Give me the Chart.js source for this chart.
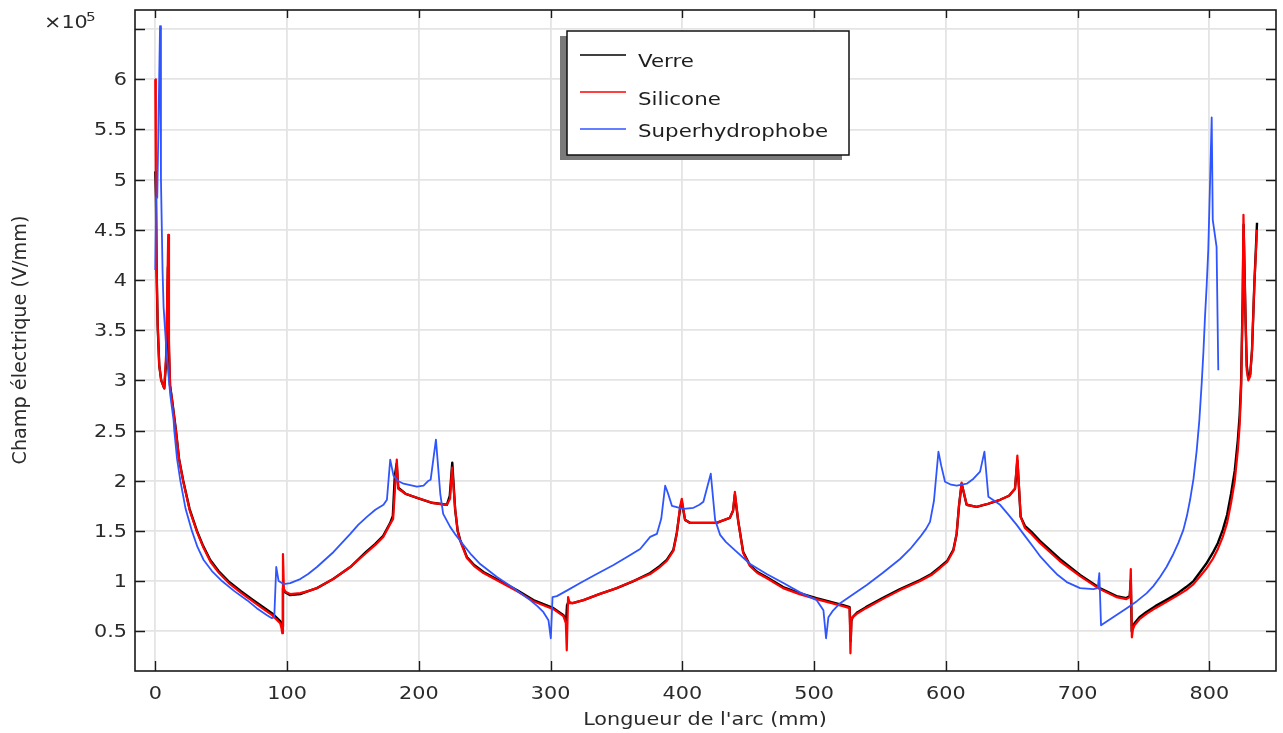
<!DOCTYPE html>
<html>
<head>
<meta charset="utf-8">
<script src="https://cdn.jsdelivr.net/npm/chart.js@4/dist/chart.umd.min.js"></script>
<style>
  body { margin: 0; background: #fff; }
  canvas { display: block; }
</style>
</head>
<body>
<canvas id="chart" width="1283" height="733"></canvas>
<script>
// values, x in mm, y in units of 1e5 V/mm
var verre = [[0,5.08],[0.5,4.83],[1.0,4.1],[1.8,3.55],[3,3.15],[4.5,3.0],[6.8,2.92],[8.3,3.2],[9.6,4.13],[10.3,3.3],[11.2,2.95],[12.7,2.81],[15.7,2.5],[18,2.22],[21.2,2.0],[26,1.72],[31.6,1.5],[36,1.36],[41.7,1.21],[48,1.1],[55.4,1.0],[65,0.9],[74.4,0.81],[82,0.74],[88.5,0.68],[94.8,0.6],[96.3,0.55],[96.9,0.93],[98.5,0.89],[102.4,0.86],[110,0.87],[116,0.9],[122.7,0.93],[135,1.02],[148,1.14],[160,1.29],[167,1.37],[173,1.45],[178.3,1.58],[180.3,1.65],[181.8,2.05],[183.2,2.17],[184.4,1.93],[190,1.87],[198.6,1.83],[210,1.78],[221.3,1.76],[223.5,1.85],[225.4,2.18],[227.6,1.71],[229.5,1.5],[231.4,1.41],[236.5,1.24],[242,1.16],[249.1,1.09],[261.8,1.0],[274.4,0.91],[287,0.81],[302.2,0.73],[309.8,0.66],[311.8,0.6],[312.5,0.76],[313.5,0.79],[316.7,0.78],[325,0.81],[337,0.87],[350.3,0.93],[363,1.0],[375.6,1.08],[383,1.15],[388.2,1.21],[393.2,1.31],[395.8,1.48],[398.3,1.72],[399.6,1.79],[402.1,1.61],[405.9,1.58],[426,1.58],[436.1,1.63],[438.5,1.7],[439.9,1.86],[442.4,1.6],[446.2,1.29],[451.3,1.16],[457,1.09],[463.9,1.04],[476.5,0.94],[489,0.88],[501.8,0.83],[522,0.76],[527,0.74],[527.8,0.4],[528.3,0.6],[529.3,0.64],[533,0.69],[539.4,0.74],[552,0.83],[565.3,0.92],[580.5,1.01],[589,1.07],[595.6,1.14],[601,1.2],[605.7,1.31],[608.2,1.47],[610,1.75],[612,1.97],[615.8,1.76],[623.4,1.74],[632,1.77],[641.2,1.81],[648,1.85],[652.5,1.92],[654.3,2.2],[656.8,1.64],[660,1.55],[665,1.49],[671.4,1.4],[686.5,1.22],[701.9,1.06],[716.8,0.93],[729.5,0.85],[737,0.83],[739.6,0.85],[740.4,1.0],[741.1,0.5],[742,0.55],[743.2,0.58],[747,0.64],[752,0.69],[759,0.75],[767.2,0.81],[775,0.87],[782.4,0.94],[788,1.0],[792.5,1.08],[797.5,1.17],[802.6,1.28],[806.5,1.38],[810.2,1.51],[813.5,1.66],[816.5,1.87],[819.3,2.1],[821.6,2.4],[823,2.65],[824.1,2.97],[825.3,3.8],[826,4.55],[827.5,3.6],[828.4,3.15],[829.6,3.02],[831,3.06],[832.4,3.3],[834.2,3.97],[836.2,4.57]];

var silicone = [[0,6.0],[0.4,5.1],[0.9,4.2],[1.8,3.55],[3,3.15],[4.5,3.0],[6.8,2.92],[8.4,3.3],[9.8,4.45],[10.4,3.4],[11.2,2.95],[12.7,2.8],[15.8,2.48],[18.2,2.2],[21.4,1.98],[26.2,1.7],[31.9,1.48],[36.3,1.34],[42,1.19],[48.4,1.08],[55.8,0.98],[65.4,0.88],[74.8,0.79],[82.2,0.72],[88.7,0.66],[94.8,0.58],[95.8,0.53],[96.4,0.48],[96.9,1.27],[97.6,0.92],[99,0.89],[102.4,0.87],[110,0.88],[116,0.9],[122.7,0.93],[135,1.02],[148,1.14],[160,1.28],[167,1.36],[173,1.44],[178.3,1.57],[180.5,1.62],[182.3,2.0],[183.3,2.21],[184.4,1.92],[190,1.87],[198.6,1.83],[210,1.78],[221.3,1.76],[223.7,1.82],[225.3,2.13],[227.6,1.72],[229.5,1.5],[231.4,1.4],[236.5,1.23],[242,1.15],[249.1,1.08],[261.8,0.99],[274.4,0.9],[287,0.8],[302.2,0.72],[309.8,0.65],[311.6,0.58],[312.3,0.31],[313.3,0.84],[314.5,0.78],[316.7,0.78],[325,0.81],[337,0.87],[350.3,0.93],[363,1.0],[375.6,1.07],[383,1.14],[388.2,1.2],[393.2,1.3],[395.8,1.47],[398.3,1.74],[399.6,1.82],[402.1,1.61],[405.9,1.58],[426,1.58],[436.1,1.63],[438.5,1.7],[439.9,1.89],[442.4,1.6],[446.2,1.28],[451.3,1.15],[457,1.08],[463.9,1.03],[476.5,0.93],[489,0.87],[501.8,0.82],[522,0.75],[527,0.73],[527.6,0.28],[528.4,0.62],[529.3,0.64],[533,0.68],[539.4,0.73],[552,0.82],[565.3,0.91],[580.5,1.0],[589,1.06],[595.6,1.13],[601,1.19],[605.7,1.3],[608.2,1.47],[610,1.75],[612,1.98],[615.8,1.76],[623.4,1.74],[632,1.77],[641.2,1.81],[648,1.85],[652.5,1.92],[654.3,2.25],[656.8,1.64],[660,1.53],[665,1.47],[671.4,1.38],[686.5,1.2],[701.9,1.05],[716.8,0.92],[729.5,0.84],[737,0.82],[739.6,0.84],[740.4,1.12],[741.2,0.44],[742,0.52],[743.2,0.56],[747,0.62],[752,0.67],[759,0.73],[767.2,0.79],[775,0.85],[782.4,0.91],[788,0.97],[792.5,1.04],[797.5,1.12],[802.6,1.22],[806.5,1.32],[810.2,1.44],[813.5,1.58],[816.5,1.78],[819.3,2.0],[821.6,2.3],[823,2.55],[824.1,2.9],[825.3,3.8],[825.9,4.65],[827.5,3.6],[828.4,3.1],[829.6,3.0],[831,3.04],[832.4,3.3],[834.2,3.97],[836.2,4.5]];

var superhydro = [[0,4.1],[0.6,4.82],[1.5,4.82],[3.6,6.53],[4.3,5.0],[5.5,4.1],[6.3,3.73],[8.8,3.23],[11.4,2.85],[13.9,2.6],[14.4,2.5],[16.5,2.22],[19,2.0],[23,1.72],[27.8,1.5],[32,1.34],[36.7,1.21],[43,1.1],[50.6,1.0],[60,0.9],[69.6,0.81],[77,0.73],[84.8,0.66],[88.5,0.63],[90.3,0.64],[91.8,1.14],[93.6,1.0],[97.4,0.97],[102.4,0.98],[110,1.02],[116,1.07],[122.7,1.14],[135.3,1.29],[148,1.47],[154,1.56],[160.6,1.64],[167,1.71],[173.2,1.76],[175.8,1.81],[178.3,2.21],[180.8,2.05],[184,2.0],[188.4,1.97],[198.6,1.94],[203.6,1.95],[207.4,2.0],[209,2.01],[213,2.41],[216.3,1.87],[218.5,1.67],[223.8,1.54],[228,1.46],[233.9,1.36],[240,1.26],[246.6,1.17],[259.3,1.04],[271.9,0.93],[284.5,0.81],[290,0.75],[294.6,0.69],[298.4,0.61],[300.2,0.43],[301.5,0.84],[304.8,0.85],[313,0.91],[322.5,0.98],[335,1.07],[347.8,1.16],[358,1.24],[368,1.32],[375.6,1.44],[380.7,1.47],[384,1.62],[387,1.95],[389,1.88],[392.1,1.75],[400.9,1.72],[408.5,1.73],[413,1.76],[416,1.79],[421.6,2.07],[424.9,1.61],[428.7,1.46],[433,1.39],[438.8,1.32],[451.5,1.17],[464,1.07],[476.7,0.98],[489,0.89],[502,0.81],[507.1,0.71],[509.1,0.43],[510.9,0.64],[514,0.7],[519.8,0.78],[530,0.87],[540,0.96],[552,1.08],[565.3,1.22],[573,1.32],[580.5,1.44],[585,1.52],[588,1.59],[591,1.8],[594.4,2.29],[596.5,2.15],[599.4,1.99],[604,1.96],[608.3,1.95],[615.9,1.97],[621,2.02],[626,2.09],[629.3,2.29],[632.3,1.84],[641.2,1.76],[647,1.67],[653.8,1.56],[660,1.45],[666.4,1.34],[672,1.24],[679.1,1.14],[685,1.06],[691.8,0.99],[701.9,0.93],[712,0.92],[715.3,0.93],[716.5,1.08],[717.8,0.56],[737.3,0.73],[745,0.8],[752.5,0.88],[757.5,0.95],[762.6,1.04],[767.5,1.14],[772.7,1.27],[776.5,1.38],[780.3,1.51],[783,1.65],[785.4,1.81],[788,2.02],[790.4,2.3],[792.4,2.6],[794.2,2.97],[795.5,3.28],[796.7,3.63],[798,3.95],[799.2,4.3],[800.5,4.95],[801.8,5.62],[802.6,4.6],[805.5,4.33],[806.8,3.1]];

var seriesNames = ['Verre', 'Silicone', 'Superhydrophobe'];
var seriesColors = ['#000000', '#ff0000', '#2f55ff'];

var xTicks = [0, 100, 200, 300, 400, 500, 600, 700, 800];
var yTicks = [0.5, 1, 1.5, 2, 2.5, 3, 3.5, 4, 4.5, 5, 5.5, 6, 6.5];
var yTickLabels = ['0.5', '1', '1.5', '2', '2.5', '3', '3.5', '4', '4.5', '5', '5.5', '6', ''];

var FONT = '"DejaVu Sans", sans-serif';
var SX = 1.22; // the text in the picture is a bit wide

function pts(arr) {
    return arr.map(function (p) { return { x: p[0], y: p[1] }; });
}

function drawText(ctx, str, x, y, align, size, color) {
    ctx.save();
    ctx.translate(x, y);
    ctx.scale(SX, 1);
    ctx.font = size + 'px ' + FONT;
    ctx.fillStyle = color;
    ctx.textAlign = align;
    ctx.textBaseline = 'alphabetic';
    ctx.fillText(str, 0, 0);
    ctx.restore();
}

var decor = {
    id: 'decor',
    afterDraw: function (chart) {
        var ctx = chart.ctx;
        var a = chart.chartArea;
        var xs = chart.scales.x, ys = chart.scales.y;
        var tick = 10;

        // frame and inward ticks
        ctx.save();
        ctx.strokeStyle = '#1a1a1a';
        ctx.lineWidth = 1.6;
        ctx.strokeRect(a.left, a.top, a.right - a.left, a.bottom - a.top);
        ctx.lineWidth = 1.4;
        ctx.beginPath();
        xTicks.forEach(function (v) {
            var px = Math.round(xs.getPixelForValue(v)) + 0.5;
            ctx.moveTo(px, a.bottom); ctx.lineTo(px, a.bottom - tick);
            ctx.moveTo(px, a.top); ctx.lineTo(px, a.top + tick - 2);
        });
        yTicks.forEach(function (v) {
            var py = Math.round(ys.getPixelForValue(v)) + 0.5;
            ctx.moveTo(a.left, py); ctx.lineTo(a.left + tick, py);
            ctx.moveTo(a.right, py); ctx.lineTo(a.right - tick, py);
        });
        ctx.stroke();
        ctx.restore();

        // tick labels
        xTicks.forEach(function (v) {
            drawText(ctx, String(v), xs.getPixelForValue(v), 699, 'center', 17, '#2a2a2a');
        });
        yTicks.forEach(function (v, i) {
            if (!yTickLabels[i]) return;
            drawText(ctx, yTickLabels[i], 127, ys.getPixelForValue(v) + 6, 'right', 17, '#2a2a2a');
        });

        // exponent
        drawText(ctx, '\u00d710', 44, 28, 'left', 17, '#2a2a2a');
        drawText(ctx, '5', 86, 21, 'left', 12.5, '#2a2a2a');

        // axis titles
        drawText(ctx, "Longueur de l'arc (mm)", 705, 725, 'center', 17, '#2a2a2a');
        ctx.save();
        ctx.translate(26, 340);
        ctx.rotate(-Math.PI / 2);
        ctx.scale(1.13, 1.18);
        ctx.font = '17px ' + FONT;
        ctx.fillStyle = '#2a2a2a';
        ctx.textAlign = 'center';
        ctx.fillText('Champ \u00e9lectrique (V/mm)', 0, 0);
        ctx.restore();

        // legend box with shadow
        var bx = 567, by = 31, bw = 282, bh = 124;
        ctx.save();
        ctx.fillStyle = '#7a7a7a';
        ctx.fillRect(bx - 7, by + 5, bw, bh);
        ctx.fillStyle = '#fff';
        ctx.fillRect(bx, by, bw, bh);
        ctx.strokeStyle = '#111';
        ctx.lineWidth = 1.5;
        ctx.strokeRect(bx, by, bw, bh);
        var lineY = [55, 92, 129];
        var textY = [67, 105, 137];
        seriesNames.forEach(function (name, i) {
            ctx.strokeStyle = seriesColors[i];
            ctx.lineWidth = 1.5;
            ctx.beginPath();
            ctx.moveTo(580, lineY[i]);
            ctx.lineTo(626, lineY[i]);
            ctx.stroke();
            drawText(ctx, name, 638, textY[i], 'left', 17.5, '#1e1e1e');
        });
        ctx.restore();
    }
};

var ctx = document.getElementById('chart').getContext('2d');
var myChart = new Chart(ctx, {
    type: 'line',
    data: {
        datasets: [
            { label: seriesNames[0], data: pts(verre), borderColor: seriesColors[0], borderWidth: 2.4, order: 3 },
            { label: seriesNames[1], data: pts(silicone), borderColor: seriesColors[1], borderWidth: 2.2, order: 2 },
            { label: seriesNames[2], data: pts(superhydro), borderColor: seriesColors[2], borderWidth: 1.8, order: 1 }
        ]
    },
    options: {
        responsive: false,
        animation: false,
        layout: { padding: { left: 135, top: 10, right: 7, bottom: 62 } },
        elements: {
            point: { radius: 0 },
            line: { tension: 0, fill: false, borderJoinStyle: 'round' }
        },
        plugins: {
            legend: { display: false },
            tooltip: { enabled: false }
        },
        scales: {
            x: {
                type: 'linear',
                min: -15.4,
                max: 850.6,
                afterBuildTicks: function (s) { s.ticks = xTicks.map(function (v) { return { value: v }; }); },
                afterFit: function (s) { s.height = 0; },
                ticks: { display: false },
                grid: { color: '#e4e4e4', lineWidth: 1.8, drawTicks: false },
                border: { display: false }
            },
            y: {
                type: 'linear',
                min: 0.104,
                max: 6.69,
                afterBuildTicks: function (s) { s.ticks = yTicks.map(function (v) { return { value: v }; }); },
                afterFit: function (s) { s.width = 0; },
                ticks: { display: false },
                grid: { color: '#e4e4e4', lineWidth: 1.8, drawTicks: false },
                border: { display: false }
            }
        }
    },
    plugins: [decor]
});
</script>
</body>
</html>
